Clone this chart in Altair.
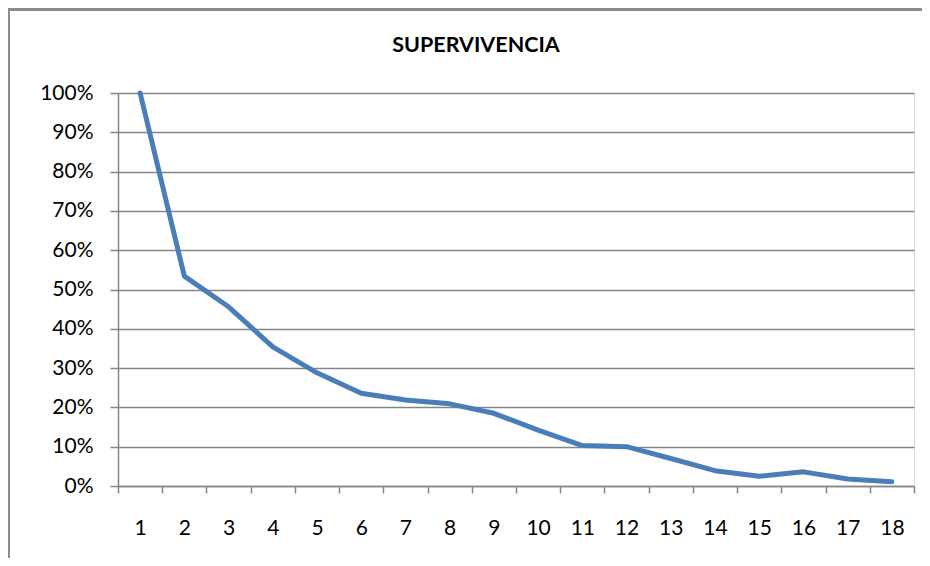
import altair as alt
import pandas as pd

periods = [str(i) for i in range(1, 19)]
survival = [1.00, 0.534, 0.456, 0.354, 0.288, 0.236, 0.219, 0.209, 0.185,
            0.142, 0.103, 0.100, 0.070, 0.039, 0.025, 0.036, 0.018, 0.011]
y_ticks = [i / 10 for i in range(0, 11)]
title_text = "SUPERVIVENCIA"

df = pd.DataFrame({"periodo": periods, "supervivencia": survival})

FONT = "Lato"
GRAY = "#868686"

x_enc = alt.X("periodo:O", sort=periods, bandPosition=0.5,
              scale=alt.Scale(type="band", paddingInner=0, paddingOuter=0),
              axis=alt.Axis(title=None, labelAngle=0, tickBand="extent",
                            labelFont=FONT, labelFontSize=21, labelColor="#000000",
                            labelPadding=24, tickSize=7, tickColor=GRAY, tickWidth=1.5,
                            domainColor=GRAY, domainWidth=1.5, grid=False))
y_enc = alt.Y("supervivencia:Q",
              scale=alt.Scale(domain=[0, 1], nice=False, zero=True),
              axis=alt.Axis(title=None, values=y_ticks, format=".0%",
                            labelFont=FONT, labelFontSize=21, labelColor="#000000",
                            labelPadding=17, tickSize=8, tickColor=GRAY, tickWidth=1.5,
                            domainColor=GRAY, domainWidth=1.5,
                            grid=True, gridColor=GRAY, gridWidth=1.5))

base = alt.Chart(df)

border = base.mark_rect(fill=None, stroke="#8c8c8c", strokeWidth=3).encode(
    x=alt.value(-110), x2=alt.value(820), y=alt.value(-84), y2=alt.value(480))

title = alt.Chart(pd.DataFrame({"t": [title_text]})).mark_text(
    font=FONT, fontSize=21.5, fontWeight="bold", color="#000000",
    align="center", baseline="alphabetic").encode(
    text="t:N", x=alt.value(358), y=alt.value(-41))

line = base.mark_line(color="#4A7EBB", strokeWidth=5, strokeJoin="round",
                      strokeCap="round").encode(x=x_enc, y=y_enc)

chart = alt.layer(border, line, title).properties(
    width=796, height=393,
    padding={"left": 110, "top": 85, "right": 8, "bottom": 72},
    autosize=alt.AutoSizeParams(type="none"),
).configure_view(stroke=None).configure(background="#ffffff")

chart.save("out.html", embed_options={"renderer": "svg", "actions": False})
